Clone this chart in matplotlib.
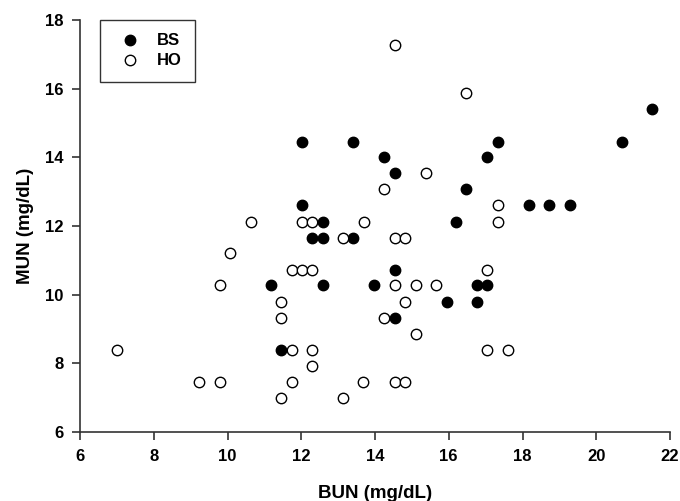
import matplotlib
matplotlib.use("Agg")
import matplotlib.pyplot as plt

# BS group (filled circles)
bs_bun = [21.52, 20.69, 17.33, 17.05, 16.48, 14.25, 14.53, 13.41, 12.03, 12.03,
          12.6, 12.3, 12.6, 13.41, 16.2, 18.18, 18.73, 19.29, 14.53, 11.17,
          12.6, 13.97, 16.77, 17.05, 15.94, 16.77, 14.53, 11.46]
bs_mun = [15.41, 14.46, 14.46, 14.0, 13.07, 14.0, 13.53, 14.46, 14.46, 12.6,
          12.12, 11.66, 11.66, 11.66, 12.12, 12.6, 12.6, 12.6, 10.73, 10.28,
          10.28, 10.28, 10.28, 10.28, 9.79, 9.79, 9.32, 8.4]

# HO group (open circles)
ho_bun = [14.54, 16.48, 14.25, 15.37, 17.33, 17.33, 10.63, 12.03, 12.3, 13.7,
          13.14, 14.53, 14.82, 10.07, 11.74, 12.03, 12.3, 17.05, 9.8, 14.53,
          15.1, 15.66, 14.81, 11.46, 11.46, 14.24, 15.1, 6.99, 11.75, 12.3,
          17.05, 17.61, 12.3, 9.24, 9.8, 11.75, 13.68, 14.53, 14.82, 11.46,
          13.14]
ho_mun = [17.27, 15.87, 13.07, 13.53, 12.6, 12.12, 12.12, 12.12, 12.12, 12.12,
          11.66, 11.66, 11.66, 11.2, 10.73, 10.73, 10.73, 10.73, 10.28, 10.28,
          10.28, 10.28, 9.79, 9.79, 9.32, 9.32, 8.86, 8.4, 8.4, 8.4,
          8.4, 8.4, 7.92, 7.46, 7.46, 7.46, 7.46, 7.46, 7.46, 6.99,
          6.99]

x_ticks = [6, 8, 10, 12, 14, 16, 18, 20, 22]
y_ticks = [6, 8, 10, 12, 14, 16, 18]

plt.rcParams['font.family'] = ['Liberation Sans', 'DejaVu Sans']
plt.rcParams['font.weight'] = 'bold'

fig = plt.figure(figsize=(6.8, 5.01), dpi=100)
ax = fig.add_axes([80 / 680, (501 - 432) / 501, 590 / 680, 412 / 501])

ax.plot(bs_bun, bs_mun, 'o', ms=7.5, mfc='black', mec='black', mew=1,
        label='BS', clip_on=False)
ax.plot(ho_bun, ho_mun, 'o', ms=7.5, mfc='white', mec='black', mew=1,
        label='HO', clip_on=False)

ax.set_xlim(6, 22)
ax.set_ylim(6, 18)
ax.set_xticks(x_ticks)
ax.set_yticks(y_ticks)
ax.set_xticklabels([str(v) for v in x_ticks], fontsize=12, fontweight='bold')
ax.set_yticklabels([str(v) for v in y_ticks], fontsize=12, fontweight='bold')

for side in ['top', 'right']:
    ax.spines[side].set_visible(False)
for side in ['left', 'bottom']:
    ax.spines[side].set_color('#333333')
    ax.spines[side].set_linewidth(1.2)
ax.tick_params(direction='out', length=6, width=1.2, color='#333333', pad=6)

ax.set_xlabel('BUN (mg/dL)', fontsize=13.5, fontweight='bold', labelpad=15)
ax.set_ylabel('MUN (mg/dL)', fontsize=13.5, fontweight='bold', labelpad=8)

leg = ax.legend(loc='upper left', bbox_to_anchor=(20 / 590, 1.0), frameon=True,
                fancybox=False, edgecolor='black', borderpad=0.8,
                handlelength=2.0, handletextpad=0.6, labelspacing=0.3,
                borderaxespad=0, prop={'size': 12, 'weight': 'bold'})
leg.get_frame().set_linewidth(1.0)

fig.savefig('out.png', dpi=100)
